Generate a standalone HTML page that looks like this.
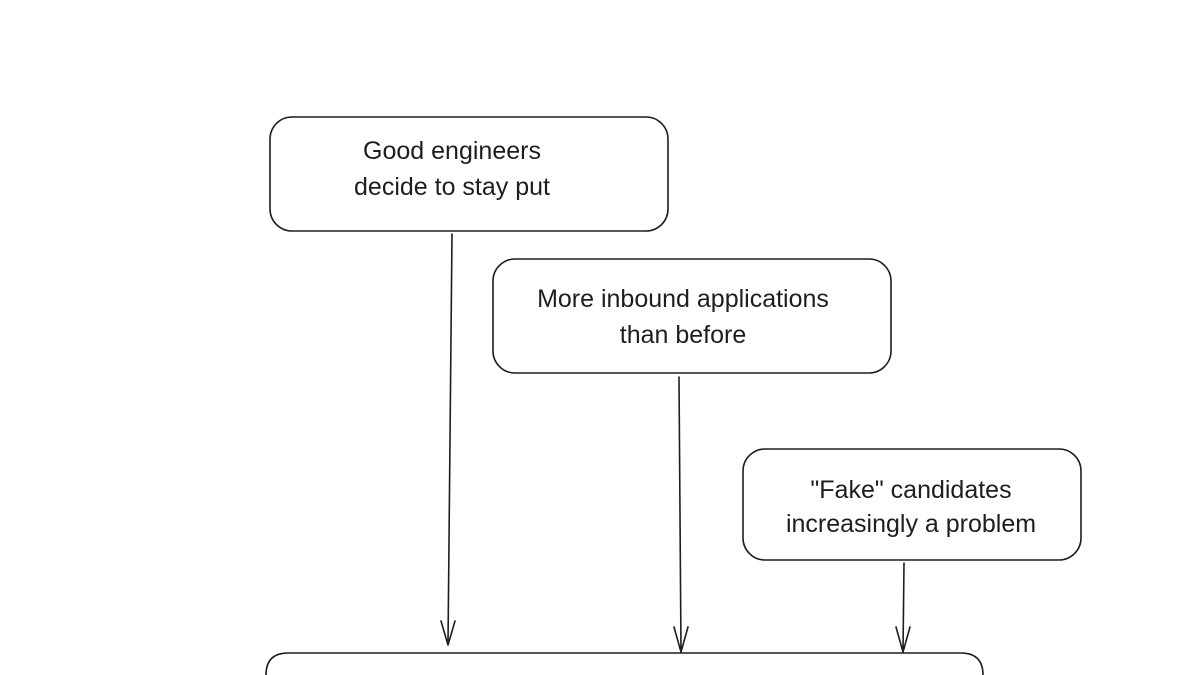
<!DOCTYPE html>
<html><head><meta charset="utf-8"><style>
html,body{margin:0;padding:0;background:#fff;width:1200px;height:675px;overflow:hidden}
svg{display:block}
</style></head><body>
<svg width="1200" height="675" viewBox="0 0 1200 675" xmlns="http://www.w3.org/2000/svg">
<g fill="none" stroke="#1e1e1e" stroke-width="1.6" stroke-linecap="round" stroke-linejoin="round">
<rect x="270" y="117" width="398" height="114" rx="22"/>
<rect x="493" y="259" width="398" height="114" rx="22"/>
<rect x="743" y="449" width="338" height="111" rx="22"/>
<path d="M266 675 L266 675 Q266 653 288 653 L961 653 Q983 653 983 675"/>
<path d="M452 234 L448 645 M441 621 L448 645 L455 621"/>
<path d="M679 377 L681 652 M674 627 L681 652 L688 627"/>
<path d="M904 563 L903 652 M896 627 L903 652 L910 627"/>
</g>
<g font-family="Liberation Sans, sans-serif" font-size="25" fill="#1e1e1e" text-anchor="middle">
<text x="452" y="159">Good engineers</text>
<text x="452" y="195">decide to stay put</text>
<text x="683" y="307">More inbound applications</text>
<text x="683" y="343">than before</text>
<text x="911" y="498">"Fake" candidates</text>
<text x="911" y="532">increasingly a problem</text>
</g>
</svg>
</body></html>
